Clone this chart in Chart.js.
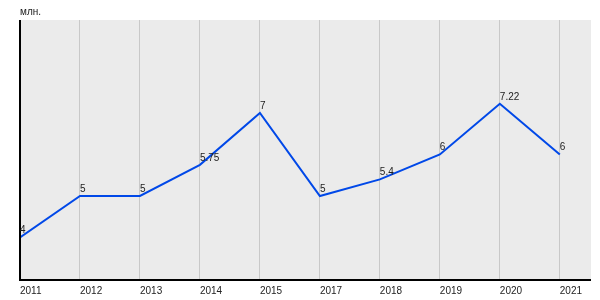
<!DOCTYPE html>
<html>
<head>
<meta charset="utf-8">
<script src="https://cdn.jsdelivr.net/npm/chart.js@4"></script>
<style>
  html, body { margin: 0; padding: 0; background: #fff; }
</style>
</head>
<body>
<canvas id="myChart" width="600" height="300"></canvas>
<script>
const years = ['2011', '2012', '2013', '2014', '2015', '2017', '2018', '2019', '2020', '2021'];
const values = [4, 5, 5, 5.75, 7, 5, 5.4, 6, 7.22, 6];
const valueLabels = ['4', '5', '5', '5.75', '7', '5', '5.4', '6', '7.22', '6'];
const unitLabel = 'млн.';

const font = "'Liberation Sans', Arial, sans-serif";

// background, axes lines, point labels and unit text
const decor = {
  id: 'decor',
  beforeDraw(chart) {
    const { ctx, chartArea: a } = chart;
    ctx.save();
    ctx.fillStyle = '#ebebeb';
    ctx.fillRect(a.left, a.top, a.right - a.left, a.bottom - a.top);
    ctx.restore();
  },
  afterDatasetsDraw(chart) {
    const { ctx, chartArea: a } = chart;
    ctx.save();
    ctx.strokeStyle = '#000';
    ctx.lineWidth = 2;
    ctx.beginPath();
    ctx.moveTo(a.left, a.top);
    ctx.lineTo(a.left, a.bottom);
    ctx.lineTo(a.right, a.bottom);
    ctx.stroke();

    ctx.fillStyle = '#222';
    ctx.font = '10px ' + font;
    ctx.textAlign = 'left';
    ctx.textBaseline = 'alphabetic';
    chart.getDatasetMeta(0).data.forEach((p, i) => {
      ctx.fillText(valueLabels[i], p.x, p.y - 4);
    });
    ctx.fillText(unitLabel, a.left, 15);
    ctx.restore();
  }
};

const myChart = new Chart(document.getElementById('myChart').getContext('2d'), {
  type: 'line',
  data: {
    datasets: [
      {
        data: values.map((v, i) => ({ x: i, y: v })),
        borderColor: '#0048e8',
        borderWidth: 2,
        pointRadius: 0,
        tension: 0,
        fill: false,
      },
    ],
  },
  options: {
    responsive: false,
    animation: false,
    layout: {
      padding: { left: 20, right: 9, top: 20, bottom: 0 },
    },
    scales: {
      x: {
        type: 'linear',
        min: 0,
        max: 9.52,
        afterBuildTicks(scale) {
          scale.ticks = years.map((y, i) => ({ value: i }));
        },
        afterFit(scale) {
          scale.height = 20;
        },
        grid: {
          color: '#c8c8c8',
          lineWidth: 1,
          drawTicks: false,
        },
        border: { display: false },
        ticks: {
          align: 'start',
          padding: 5,
          maxRotation: 0,
          autoSkip: false,
          color: '#222',
          font: { family: font, size: 10 },
          callback: (v) => years[v] ?? '',
        },
      },
      y: {
        display: false,
        min: 2.976,
        max: 9.24,
      },
    },
    plugins: {
      legend: { display: false },
      tooltip: { enabled: false },
    },
  },
  plugins: [decor],
});
</script>
</body>
</html>
